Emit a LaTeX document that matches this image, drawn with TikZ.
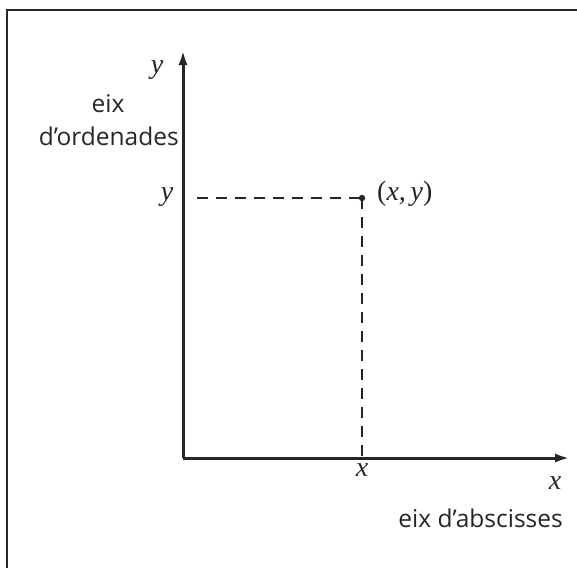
\documentclass[tikz,border=0pt]{standalone}
\usepackage{fontspec}
\setmainfont{Open Sans}
\newfontfamily\varfont{Liberation Serif}
\usetikzlibrary{arrows.meta}
\begin{document}
\begin{tikzpicture}[x=1pt,y=-1pt,
  axis/.style={line width=3pt,-{Latex[length=15pt,width=9pt]},color=black!85},
  guide/.style={line width=1.2pt,dash pattern=on 11pt off 8pt,black!85},
  lab/.style={font=\fontsize{24.5}{29}\selectfont,inner sep=0pt,text=black!85},
  var/.style={font=\fontsize{28}{30}\varfont\itshape,inner sep=0pt,text=black!85}]
\useasboundingbox (0,0) rectangle (577,568);
\draw[line width=1.8pt,black!85] (7,568) -- (7,10) -- (577,10);
\coordinate (O) at (183,458);
\coordinate (ytop) at (183,50);
\coordinate (xend) at (570,458);
\coordinate (P) at (362,198);
\coordinate (yl) at (197,198);
\coordinate (xl) at (362,458);
\draw[guide] (yl) -- (P);
\draw[guide] (P) -- (xl);
\draw[axis] (O) -- (ytop);
\draw[axis] (O) -- (xend);
\fill[black!85] (P) circle (3.2pt);
\node[var] (ylab) at (157,70) {y};
\node[lab] (eix) at (108,104) {eix};
\node[lab,anchor=east] (ord) at (179,136) {d’ordenades};
\node[var] (yt) at (167,197) {y};
\node[var,anchor=west] (pt) at (377,194) {\upshape(\itshape x,\,y\upshape)};
\node[var] (xt) at (362,470) {x};
\node[var] (xlab) at (555,483) {x};
\node[lab,anchor=east] (abs) at (563,518) {eix d’abscisses};
\end{tikzpicture}
\end{document}
